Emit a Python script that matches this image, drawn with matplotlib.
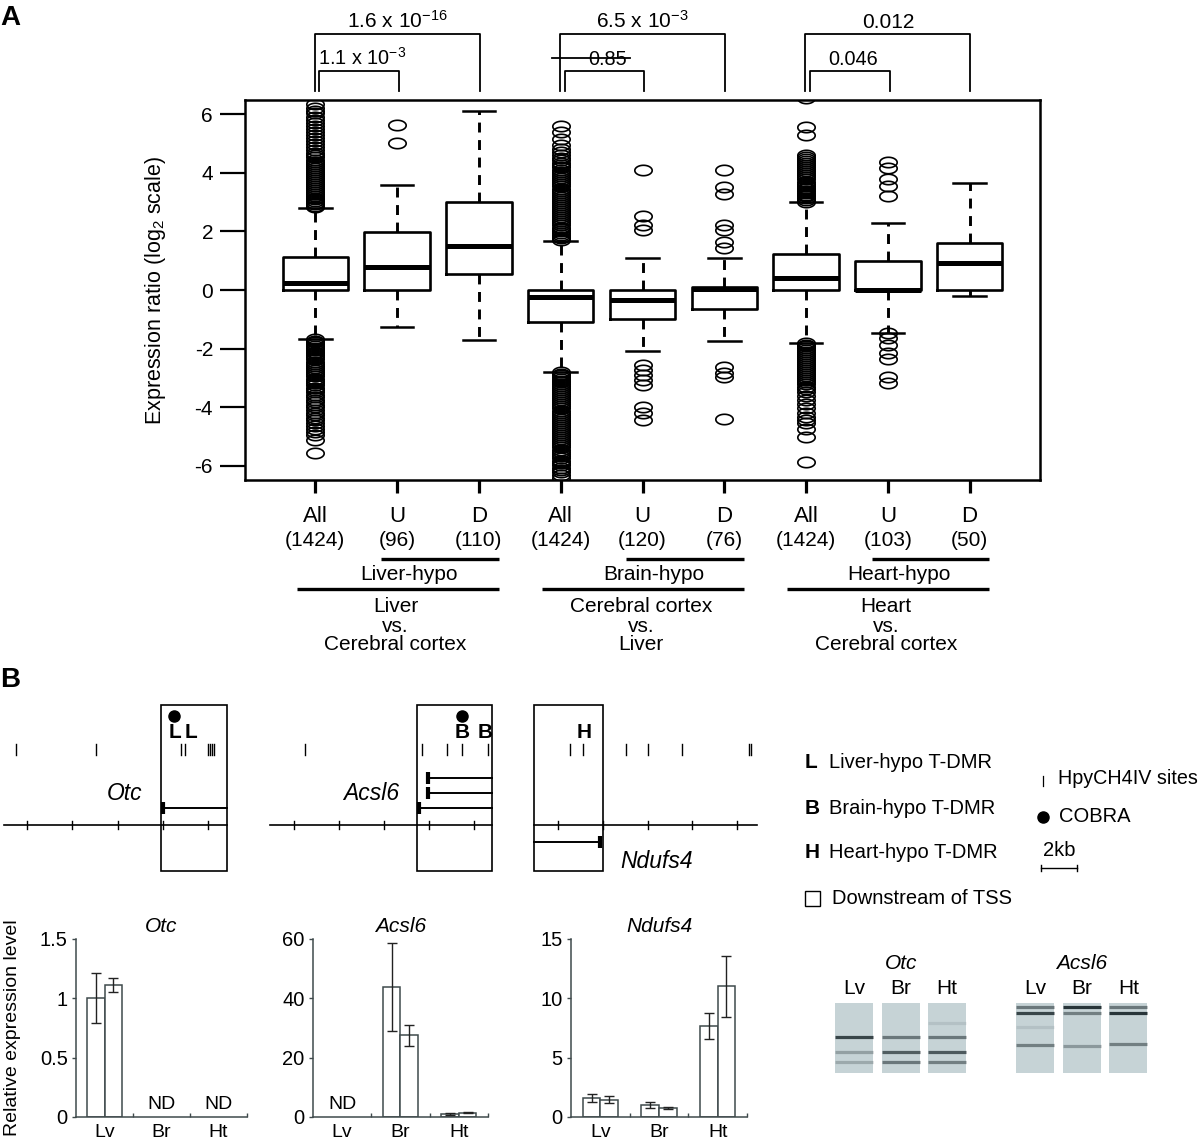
import numpy as np
import matplotlib
matplotlib.use('Agg')
import matplotlib.pyplot as plt
from matplotlib.path import Path
from matplotlib.patches import Rectangle

plt.rcParams['font.family'] = ['Liberation Sans', 'DejaVu Sans']
plt.rcParams['mathtext.fontset'] = 'custom'
plt.rcParams['mathtext.rm'] = 'Liberation Sans'
plt.rcParams['mathtext.it'] = 'Liberation Sans:italic'
plt.rcParams['mathtext.bf'] = 'Liberation Sans:bold'
plt.rcParams['mathtext.default'] = 'regular'

# ======================= DATA: panel A =======================
box_labels = ['All', 'U', 'D', 'All', 'U', 'D', 'All', 'U', 'D']
box_counts = ['(1424)', '(96)', '(110)', '(1424)', '(120)', '(76)', '(1424)', '(103)', '(50)']
box_q1 = [0.00, 0.00, 0.56, -1.10, -1.00, -0.65, 0.00, 0.00, 0.00]
box_med = [0.25, 0.80, 1.50, -0.25, -0.34, 0.03, 0.42, 0.00, 0.91]
box_q3 = [1.11, 1.98, 3.00, 0.00, 0.00, 0.10, 1.22, 1.00, 1.62]
box_whislo = [-1.66, -1.27, -1.70, -2.79, -2.09, -1.73, -1.80, -1.48, -0.20]
box_whishi = [2.79, 3.57, 6.10, 1.67, 1.08, 1.08, 2.99, 2.30, 3.64]

fliers_liver_all = [2.82, 2.87, 2.92, 2.98, 3.03, 3.09, 3.15, 3.21, 3.28, 3.34, 3.41, 3.47, 3.54,
                    3.61, 3.68, 3.75, 3.82, 3.89, 3.96, 4.03, 4.10, 4.17, 4.24, 4.31, 4.38, 4.45,
                    4.52, 4.60, 4.67, 4.78, 4.88, 4.98, 5.08, 5.18, 5.28, 5.38, 5.49, 5.59, 5.70,
                    5.80, 5.91, 6.02, 6.12, 6.22, 6.33,
                    -1.68, -1.73, -1.79, -1.85, -1.91, -1.97, -2.03, -2.10, -2.16, -2.23, -2.30,
                    -2.37, -2.44, -2.51, -2.58, -2.65, -2.72, -2.80, -2.87, -2.94, -3.02, -3.09,
                    -3.17, -3.25, -3.33, -3.41, -3.49, -3.57, -3.65, -3.74, -3.82, -3.91, -4.00,
                    -4.09, -4.18, -4.27, -4.36, -4.45, -4.55, -4.64, -4.74, -4.84, -4.93, -5.12, -5.57]
fliers_liver_u = [5.00, 5.62]
fliers_liver_d = []
fliers_brain_all = [1.70, 1.76, 1.82, 1.88, 1.94, 2.00, 2.07, 2.13, 2.20, 2.27, 2.34, 2.41, 2.48,
                    2.55, 2.62, 2.69, 2.76, 2.83, 2.90, 2.97, 3.04, 3.11, 3.18, 3.25, 3.32, 3.39,
                    3.46, 3.53, 3.60, 3.67, 3.74, 3.81, 3.88, 3.95, 4.02, 4.10, 4.18, 4.26, 4.34,
                    4.42, 4.50, 4.60, 4.70, 4.80, 4.95, 5.15, 5.38, 5.60,
                    -2.80, -2.85, -2.91, -2.97, -3.03, -3.09, -3.15, -3.21, -3.28, -3.34, -3.41,
                    -3.48, -3.55, -3.62, -3.69, -3.76, -3.83, -3.90, -3.97, -4.04, -4.11, -4.18,
                    -4.25, -4.32, -4.39, -4.46, -4.53, -4.60, -4.67, -4.74, -4.81, -4.88, -4.95,
                    -5.02, -5.09, -5.16, -5.23, -5.30, -5.37, -5.44, -5.51, -5.58, -5.66, -5.74,
                    -5.82, -5.90, -5.98, -6.06, -6.14, -6.22, -6.30, -6.40]
fliers_brain_u = [2.05, 2.22, 2.54, 4.10, -2.56, -2.73, -2.90, -3.07, -3.24, -3.98, -4.19, -4.44]
fliers_brain_d = [1.42, 1.65, 2.05, 2.22, 3.27, 3.50, 4.10, -2.64, -2.82, -2.98, -4.41]
fliers_heart_all = [3.01, 3.07, 3.13, 3.19, 3.25, 3.31, 3.37, 3.43, 3.49, 3.56, 3.63, 3.70, 3.77,
                    3.84, 3.91, 3.98, 4.05, 4.12, 4.19, 4.26, 4.33, 4.40, 4.47, 4.55, 4.62,
                    5.29, 5.57, 6.55,
                    -1.80, -1.86, -1.92, -1.98, -2.04, -2.10, -2.17, -2.24, -2.31, -2.38, -2.45,
                    -2.52, -2.59, -2.66, -2.73, -2.80, -2.87, -2.94, -3.01, -3.08, -3.15, -3.22,
                    -3.30, -3.38, -3.47, -3.60, -3.75, -3.90, -4.04, -4.18, -4.32, -4.45, -4.55,
                    -4.75, -5.00, -5.86]
fliers_heart_u = [3.19, 3.53, 3.78, 4.15, 4.38, -1.48, -1.65, -1.88, -2.16, -2.37, -2.96, -3.16]
fliers_heart_d = []
box_fliers = [fliers_liver_all, fliers_liver_u, fliers_liver_d,
              fliers_brain_all, fliers_brain_u, fliers_brain_d,
              fliers_heart_all, fliers_heart_u, fliers_heart_d]

hypo_names = ['Liver-hypo', 'Brain-hypo', 'Heart-hypo']
comparison_text = [['Liver', 'vs.', 'Cerebral cortex'],
                   ['Cerebral cortex', 'vs.', 'Liver'],
                   ['Heart', 'vs.', 'Cerebral cortex']]
p_all_vs_d = ['1.6 x $10^{-16}$', '6.5 x $10^{-3}$', '0.012']
p_all_vs_u = ['1.1 x $10^{-3}$', '0.85', '0.046']

# ======================= DATA: panel B =======================
genes = ['Otc', 'Acsl6', 'Ndufs4']
gene_axis_span = [(-7.02, 2.83), (-7.05, 2.80), (-3.09, 6.90)]
gene_scale_ticks = [[-6, -4, -2, 0, 2], [-6, -4, -2, 0, 2], [-2, 0, 2, 4, 6]]
gene_tss_box = [(-0.09, 2.83), (-0.53, 2.80), (-3.09, -0.02)]
gene_sites = [[-6.49, -2.96, 0.79, 0.97, 1.99, 2.08, 2.16, 2.25],
              [-5.49, -0.31, 0.80, 1.46, 2.61],
              [-1.48, -0.89, 1.03, 2.01, 3.53, 6.53, 6.62]]
gene_cobra = [[0.49], [1.46], []]
gene_tdmr = [[(0.53, 'L'), (1.24, 'L')], [(1.46, 'B'), (2.48, 'B')], [(-0.85, 'H')]]
gene_transcripts = [[(0.00, 2.83)], [(-0.04, 2.80), (-0.04, 2.80), (-0.44, 2.80)], [(-0.13, -3.09)]]

tissues = ['Lv', 'Br', 'Ht']
nan = np.nan
otc_rep1 = [1.00, nan, nan]
otc_rep1_err = [0.21, nan, nan]
otc_rep2 = [1.11, nan, nan]
otc_rep2_err = [0.06, nan, nan]
acsl6_rep1 = [nan, 43.7, 1.0]
acsl6_rep1_err = [nan, 14.8, 0.2]
acsl6_rep2 = [nan, 27.5, 1.5]
acsl6_rep2_err = [nan, 3.5, 0.3]
ndufs4_rep1 = [1.60, 1.00, 7.70]
ndufs4_rep1_err = [0.30, 0.25, 1.10]
ndufs4_rep2 = [1.46, 0.73, 11.0]
ndufs4_rep2_err = [0.27, 0.08, 2.60]

# gel bands: (lane index, relative position from top, darkness)
gel_otc_bands = [(0, 0.486, 0.85), (0, 0.70, 0.30), (0, 0.843, 0.25),
                 (1, 0.486, 0.55), (1, 0.70, 0.70), (1, 0.843, 0.55),
                 (2, 0.286, 0.10), (2, 0.486, 0.55), (2, 0.70, 0.72), (2, 0.843, 0.50)]
gel_acsl6_bands = [(0, 0.057, 0.55), (0, 0.143, 0.85), (0, 0.343, 0.10), (0, 0.600, 0.50),
                   (1, 0.057, 0.95), (1, 0.143, 0.50), (1, 0.614, 0.35),
                   (2, 0.057, 0.55), (2, 0.143, 0.95), (2, 0.586, 0.50)]

# ======================= FIGURE =======================
W, H = 1200, 1143
fig = plt.figure(figsize=(W / 100, H / 100), dpi=100)


def rect(x0, y0, x1, y1):
    return [x0 / W, 1 - y1 / H, (x1 - x0) / W, (y1 - y0) / H]


ov = fig.add_axes([0, 0, 1, 1])
ov.set_xlim(0, W)
ov.set_ylim(H, 0)
ov.axis('off')
ov.patch.set_visible(False)

ov.text(0, 18, 'A', fontsize=20, fontweight='bold', va='center', ha='left')
ov.text(0, 680, 'B', fontsize=20, fontweight='bold', va='center', ha='left')

# ----------------------- Panel A -----------------------
axA = fig.add_axes(rect(245, 100, 1040, 480))
positions = np.arange(1, len(box_med) + 1)
stats = []
for i in range(len(box_med)):
    stats.append(dict(med=box_med[i], q1=box_q1[i], q3=box_q3[i],
                      whislo=box_whislo[i], whishi=box_whishi[i],
                      fliers=np.array(box_fliers[i])))
tt = np.linspace(0, 2 * np.pi, 64)
ellipse = Path(np.column_stack([np.cos(tt), 0.60 * np.sin(tt)]), closed=True)
axA.bxp(stats, positions=positions, widths=0.8, capwidths=0.4,
        boxprops=dict(color='black', lw=1.9),
        medianprops=dict(color='black', lw=3.6, solid_capstyle='butt'),
        whiskerprops=dict(color='black', lw=2.1, linestyle=(0, (3.4, 2.6))),
        capprops=dict(color='black', lw=1.8),
        flierprops=dict(marker=ellipse, markersize=12.5, markerfacecolor='none',
                        markeredgecolor='black', markeredgewidth=1.2, linestyle='none'),
        manage_ticks=False)
axA.set_xlim(0.14, 9.86)
axA.set_ylim(-6.48, 6.48)
axA.set_yticks([-6, -4, -2, 0, 2, 4, 6])
axA.set_yticklabels(['-6', '-4', '-2', '0', '2', '4', '6'])
axA.set_xticks(positions)
axA.set_xticklabels([''] * len(positions))
axA.tick_params(axis='y', direction='out', length=18, width=1.6, labelsize=15, pad=5)
axA.tick_params(axis='x', direction='out', length=9.5, width=2.3)
for s in axA.spines.values():
    s.set_linewidth(1.8)
axA.set_ylabel('Expression ratio (log$_2$ scale)', fontsize=15.5)
axA.yaxis.set_label_coords((168 - 245) / 795, 0.5)

xt = axA.get_xaxis_transform()


def fy(ypix):
    return (480 - ypix) / 380.0


for i, p in enumerate(positions):
    axA.text(p, fy(516), box_labels[i], transform=xt, ha='center', va='center', fontsize=16)
    axA.text(p, fy(541), box_counts[i], transform=xt, ha='center', va='center', fontsize=15)

for g in range(3):
    pa, pu, pd = positions[3 * g], positions[3 * g + 1], positions[3 * g + 2]
    axA.plot([pu - 0.20, pd + 0.24], [fy(559), fy(559)], transform=xt, color='black',
             lw=2.4, clip_on=False, solid_capstyle='butt')
    axA.text(pu + 0.14, fy(575), hypo_names[g], transform=xt, ha='center', va='center', fontsize=15)
    axA.plot([pa - 0.23, pd + 0.24], [fy(589), fy(589)], transform=xt, color='black',
             lw=2.4, clip_on=False, solid_capstyle='butt')
    for k, (txt, yy) in enumerate(zip(comparison_text[g], [606, 626, 645])):
        axA.text(pu - 0.02, fy(yy), txt, transform=xt, ha='center', va='center', fontsize=15)


def ya(ypix):
    return 6.48 - (ypix - 100) / (380 / 12.96)


for g in range(3):
    pa, pu, pd = positions[3 * g], positions[3 * g + 1], positions[3 * g + 2]
    xo = [pa - 0.01, pa - 0.01, pd + 0.01, pd + 0.01]
    axA.plot(xo, [ya(91), ya(34), ya(34), ya(91)], color='black', lw=1.3, clip_on=False)
    axA.text((xo[0] + xo[2]) / 2, ya(28), p_all_vs_d[g], ha='center', va='baseline', fontsize=15)
    xi = [pa + 0.05, pa + 0.05, pu + 0.02, pu + 0.02]
    axA.plot(xi, [ya(91), ya(71), ya(71), ya(91)], color='black', lw=1.3, clip_on=False)
    axA.text((xi[0] + xi[2]) / 2 + 0.04, ya(65), p_all_vs_u[g], ha='center', va='baseline', fontsize=14.3)
# stray horizontal line across the 0.85 label (present in the original)
axA.plot([positions[3] - 0.11, positions[4] - 0.15], [ya(57.5), ya(57.5)], color='black', lw=1.3, clip_on=False)

# ----------------------- Panel B: gene maps -----------------------
gene_px = [(163, 22.65, 0, 245), (429, 22.5, 262, 505), (603, 22.35, 522, 770)]
transcript_rows = [[808], [778, 793, 808], [842]]
gene_name_pos = [(-1.68, 793), (-2.58, 793), (2.42, 861)]
for gi in range(3):
    org, ppk, pl, pr = gene_px[gi]
    ax = fig.add_axes(rect(pl, 700, pr, 880))
    ax.set_xlim((pl - org) / ppk, (pr - org) / ppk)
    ax.set_ylim(880, 700)
    ax.axis('off')
    x0, x1 = gene_axis_span[gi]
    ax.plot([x0, x1], [825, 825], color='black', lw=1.2)
    for t in gene_scale_ticks[gi]:
        ax.plot([t, t], [821, 829], color='black', lw=1.0)
    b0, b1 = gene_tss_box[gi]
    ax.add_patch(Rectangle((b0, 705), b1 - b0, 166, fill=False, lw=1.2, edgecolor='black'))
    for s in gene_sites[gi]:
        ax.plot([s, s], [744, 755], color='black', lw=1.0)
    for c in gene_cobra[gi]:
        ax.plot([c], [716], 'o', color='black', ms=8)
    for (xp, lab) in gene_tdmr[gi]:
        ax.text(xp, 733, lab, ha='center', va='center', fontsize=15, fontweight='bold')
    for row, (tss, end) in zip(transcript_rows[gi], gene_transcripts[gi]):
        ax.plot([tss, end], [row, row], color='black', lw=1.4)
        ax.plot([tss], [row], marker='|', ms=8, mew=3, color='black')
    gx, gy = gene_name_pos[gi]
    ax.text(gx, gy, genes[gi], ha='center', va='center', fontsize=16.5, style='italic')

# legend for gene maps
leg_items = [('L', 'Liver-hypo T-DMR', 762), ('B', 'Brain-hypo T-DMR', 808), ('H', 'Heart-hypo T-DMR', 853)]
for let, txt, yy in leg_items:
    ov.text(805, yy, let, fontsize=15, fontweight='bold', va='center', ha='left')
    ov.text(829, yy, txt, fontsize=14.5, va='center', ha='left')
ov.add_patch(Rectangle((805, 891), 15, 15, fill=False, lw=1.0, edgecolor='black'))
ov.text(832, 898, 'Downstream of TSS', fontsize=14.5, va='center', ha='left')
ov.plot([1043, 1043], [776, 786], color='black', lw=0.9)
ov.text(1058, 778, 'HpyCH4IV sites', fontsize=14.2, va='center', ha='left')
ov.plot([1043], [817], 'o', color='black', ms=8)
ov.text(1059, 817, 'COBRA', fontsize=14.5, va='center', ha='left')
ov.text(1059, 851, '2kb', fontsize=14.5, va='center', ha='center')
ov.plot([1041, 1077], [868, 868], color='black', lw=1.0)
ov.plot([1041, 1041], [865, 871], color='black', lw=1.0)
ov.plot([1077, 1077], [865, 871], color='black', lw=1.0)

# ----------------------- Panel B: bar charts -----------------------
bar_sets = [
    ('Otc', otc_rep1, otc_rep1_err, otc_rep2, otc_rep2_err, (0, 1.5), [0, 0.5, 1, 1.5], ['0', '0.5', '1', '1.5'], (76, 247)),
    ('Acsl6', acsl6_rep1, acsl6_rep1_err, acsl6_rep2, acsl6_rep2_err, (0, 60), [0, 20, 40, 60], ['0', '20', '40', '60'], (313, 488)),
    ('Ndufs4', ndufs4_rep1, ndufs4_rep1_err, ndufs4_rep2, ndufs4_rep2_err, (0, 15), [0, 5, 10, 15], ['0', '5', '10', '15'], (571, 747)),
]
spine_col = '#3f4a4c'
for bi, (name, r1, e1, r2, e2, ylim, yt, ytl, (xl, xr)) in enumerate(bar_sets):
    ax = fig.add_axes(rect(xl, 939, xr, 1117))
    xc = np.arange(len(tissues)) + 0.5
    ax.bar(xc - 0.15, r1, width=0.3, color='white', edgecolor=spine_col, lw=1.1, zorder=2)
    ax.bar(xc + 0.15, r2, width=0.3, color='white', edgecolor=spine_col, lw=1.1, zorder=2)
    ax.errorbar(xc - 0.15, r1, yerr=e1, fmt='none', ecolor='#222222', elinewidth=1.0, capsize=3.5, capthick=1.0, zorder=3)
    ax.errorbar(xc + 0.15, r2, yerr=e2, fmt='none', ecolor='#222222', elinewidth=1.0, capsize=3.5, capthick=1.0, zorder=3)
    for k in range(len(tissues)):
        if np.isnan(r1[k]):
            ax.text(xc[k], ylim[1] * 0.068, 'ND', ha='center', va='center', fontsize=14)
    ax.set_xlim(0, 3)
    ax.set_ylim(*ylim)
    ax.set_yticks(yt)
    ax.set_yticklabels(ytl)
    ax.set_xticks(xc)
    ax.set_xticklabels(tissues)
    ax.set_xticks([1, 2, 3], minor=True)
    ax.tick_params(axis='x', which='major', length=0, labelsize=14, pad=5)
    ax.tick_params(axis='x', which='minor', direction='in', length=3, width=1.0, color=spine_col)
    ax.tick_params(axis='y', direction='out', length=3, width=1.0, labelsize=14.5, pad=3, color=spine_col)
    for sp in ['top', 'right']:
        ax.spines[sp].set_visible(False)
    for sp in ['left', 'bottom']:
        ax.spines[sp].set_color(spine_col)
        ax.spines[sp].set_linewidth(1.1)
    ax.patch.set_visible(False)
    ax.set_title(name, fontsize=15, style='italic', pad=5)
    if bi == 0:
        ax.set_ylabel('Relative expression level', fontsize=14)
        ax.yaxis.set_label_coords((21 - 76) / (247 - 76), 0.5)

# ----------------------- Panel B: gels -----------------------
gel_sets = [('Otc', gel_otc_bands, 831), ('Acsl6', gel_acsl6_bands, 1012)]
for name, bands, xl in gel_sets:
    ax = fig.add_axes(rect(xl, 1003, xl + 139.5, 1073))
    ax.set_xlim(-0.5, 2.5)
    ax.set_ylim(1, 0)
    ax.axis('off')
    for li in range(3):
        ax.add_patch(Rectangle((li - 0.41, 0), 0.82, 1, facecolor='#c6d3d6', edgecolor='none'))
    for (li, pos, dark) in bands:
        ax.plot([li - 0.41, li + 0.41], [pos, pos], color='#1f2c30', alpha=dark, lw=2.3,
                solid_capstyle='butt')
    for li, t in enumerate(tissues):
        ax.text(li, -0.2, t, ha='center', va='center', fontsize=15, clip_on=False)
    ax.text(1, -0.56, name, ha='center', va='center', fontsize=15, style='italic', clip_on=False)

fig.savefig('out.png', dpi=100)
